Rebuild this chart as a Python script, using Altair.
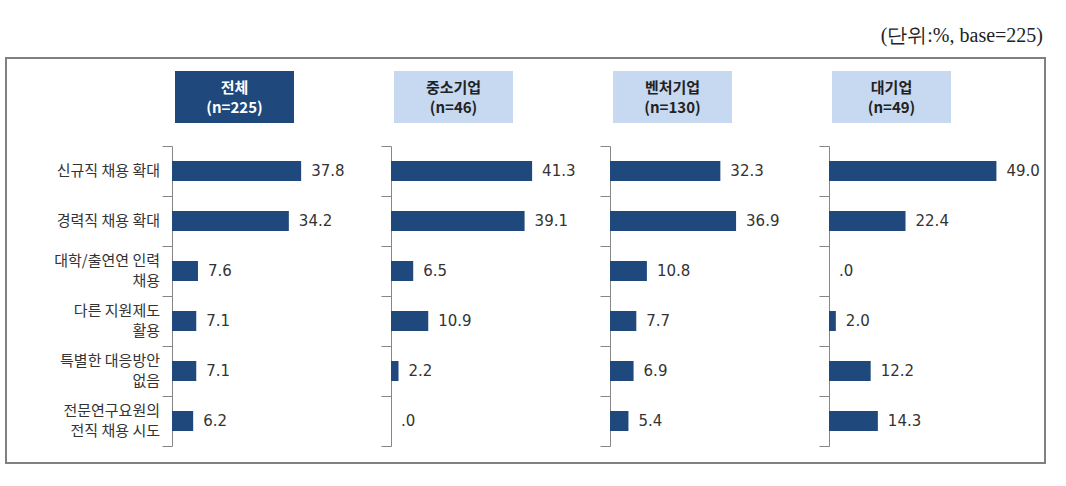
import altair as alt
import pandas as pd

# ---- data ----
categories = [
    "신규직 채용 확대",
    "경력직 채용 확대",
    "대학/출연연 인력\n채용",
    "다른 지원제도\n활용",
    "특별한 대응방안\n없음",
    "전문연구요원의\n전직 채용 시도",
]
groups = ["전체", "중소기업", "벤처기업", "대기업"]
group_n = ["(n=225)", "(n=46)", "(n=130)", "(n=49)"]
values_total = [37.8, 34.2, 7.6, 7.1, 7.1, 6.2]
values_small = [41.3, 39.1, 6.5, 10.9, 2.2, 0.0]
values_venture = [32.3, 36.9, 10.8, 7.7, 6.9, 5.4]
values_large = [49.0, 22.4, 0.0, 2.0, 12.2, 14.3]
series = [values_total, values_small, values_venture, values_large]
unit_note = "(단위:%, base=225)"

# ---- style ----
BAR = "#1f497d"
LIGHT = "#c6d9f1"
AXIS_GRAY = "#868686"
TXT = "#333333"
KFONT = "Noto Sans CJK KR"
NFONT = "DejaVu Sans"

PANEL_W = 205
PANEL_H = 300
SPACING = 14
ORIGIN_X = 172  # left of first plot area in the window
ORIGIN_Y = 146  # top of plot areas in the window
WIN_W, WIN_H = 1066, 486


def fmt(v):
    s = f"{v:.1f}"
    if s.startswith("0"):
        s = s[1:]
    return s


one_row = pd.DataFrame({"k": [0]})

# category label lines (split from the category names)
single_rows, top_rows, bottom_rows = [], [], []
for c in categories:
    parts = c.split("\n")
    if len(parts) == 1:
        single_rows.append({"category": c, "line": parts[0]})
    else:
        top_rows.append({"category": c, "line": parts[0]})
        bottom_rows.append({"category": c, "line": parts[1]})

Y_SHARED = alt.Y("category:N", sort=categories)
NO_VIEW = alt.ViewBackground(stroke="transparent", strokeOpacity=0, strokeWidth=0)

panels = []
for i, (g, n, vals) in enumerate(zip(groups, group_n, series)):
    df = pd.DataFrame({
        "category": categories,
        "value": vals,
        "label": [fmt(v) for v in vals],
    })
    first = i == 0
    y_enc = alt.Y(
        "category:N",
        sort=categories,
        scale=alt.Scale(paddingInner=0, paddingOuter=0),
        axis=alt.Axis(
            title=None,
            labels=False,
            tickBand="extent",
            tickSize=10,
            tickColor=AXIS_GRAY,
            domainColor=AXIS_GRAY,
            grid=False,
        ),
    )
    x_enc = alt.X("value:Q", scale=alt.Scale(domain=[0, 60]), axis=None)

    base = alt.Chart(df)
    bars = base.mark_bar(size=20, color=BAR).encode(x=x_enc, y=y_enc)
    texts = base.mark_text(
        align="left", baseline="middle", dx=10, font=NFONT, fontSize=15, color=TXT
    ).encode(x=x_enc, y=Y_SHARED, text="label:N")

    box = alt.Chart(one_row).mark_rect(color=BAR if first else LIGHT).encode(
        x=alt.value(3), x2=alt.value(122), y=alt.value(-75), y2=alt.value(-23)
    )
    head_kw = dict(
        font=KFONT, fontSize=15, fontWeight="bold", align="center", baseline="middle",
        color="white" if first else "#222222",
    )
    head1 = alt.Chart(one_row).mark_text(text=g, **head_kw).encode(
        x=alt.value(62.5), y=alt.value(-58))
    head2 = alt.Chart(one_row).mark_text(text=n, **head_kw).encode(
        x=alt.value(62.5), y=alt.value(-38))

    layers = []
    if first:
        # invisible window-size rect so the layout fills the window exactly
        win = alt.Chart(one_row).mark_rect(opacity=0).encode(
            x=alt.value(-ORIGIN_X), x2=alt.value(WIN_W - ORIGIN_X),
            y=alt.value(-ORIGIN_Y), y2=alt.value(WIN_H - ORIGIN_Y),
        )
        frame = alt.Chart(one_row).mark_rect(
            fill=None, fillOpacity=0, stroke="#808080", strokeWidth=2
        ).encode(
            x=alt.value(6 - ORIGIN_X), x2=alt.value(1045 - ORIGIN_X),
            y=alt.value(58 - ORIGIN_Y), y2=alt.value(463 - ORIGIN_Y),
        )
        note = alt.Chart(one_row).mark_text(
            text=unit_note, font="Liberation Serif", fontSize=20, color="#222222",
            align="right", baseline="middle",
        ).encode(x=alt.value(1043 - ORIGIN_X), y=alt.value(36 - ORIGIN_Y))
        lab_kw = dict(align="right", baseline="middle", font=KFONT, fontSize=15, color=TXT)
        lab_single = alt.Chart(pd.DataFrame(single_rows)).mark_text(dy=0, **lab_kw).encode(
            x=alt.value(-12), y=Y_SHARED, text="line:N")
        lab_top = alt.Chart(pd.DataFrame(top_rows)).mark_text(dy=-10, **lab_kw).encode(
            x=alt.value(-12), y=Y_SHARED, text="line:N")
        lab_bottom = alt.Chart(pd.DataFrame(bottom_rows)).mark_text(dy=10, **lab_kw).encode(
            x=alt.value(-12), y=Y_SHARED, text="line:N")
        layers = [win, frame, note, lab_single, lab_top, lab_bottom]
    layers += [box, head1, head2, bars, texts]
    panels.append(
        alt.layer(*layers).properties(width=PANEL_W, height=PANEL_H, view=NO_VIEW)
    )

chart = alt.hconcat(*panels, spacing=SPACING, bounds="flush").properties(
    padding=0
).configure_view(stroke="transparent", strokeOpacity=0, strokeWidth=0).configure(
    background="white"
)

chart.save("out.html", embed_options={"renderer": "svg", "actions": False})
